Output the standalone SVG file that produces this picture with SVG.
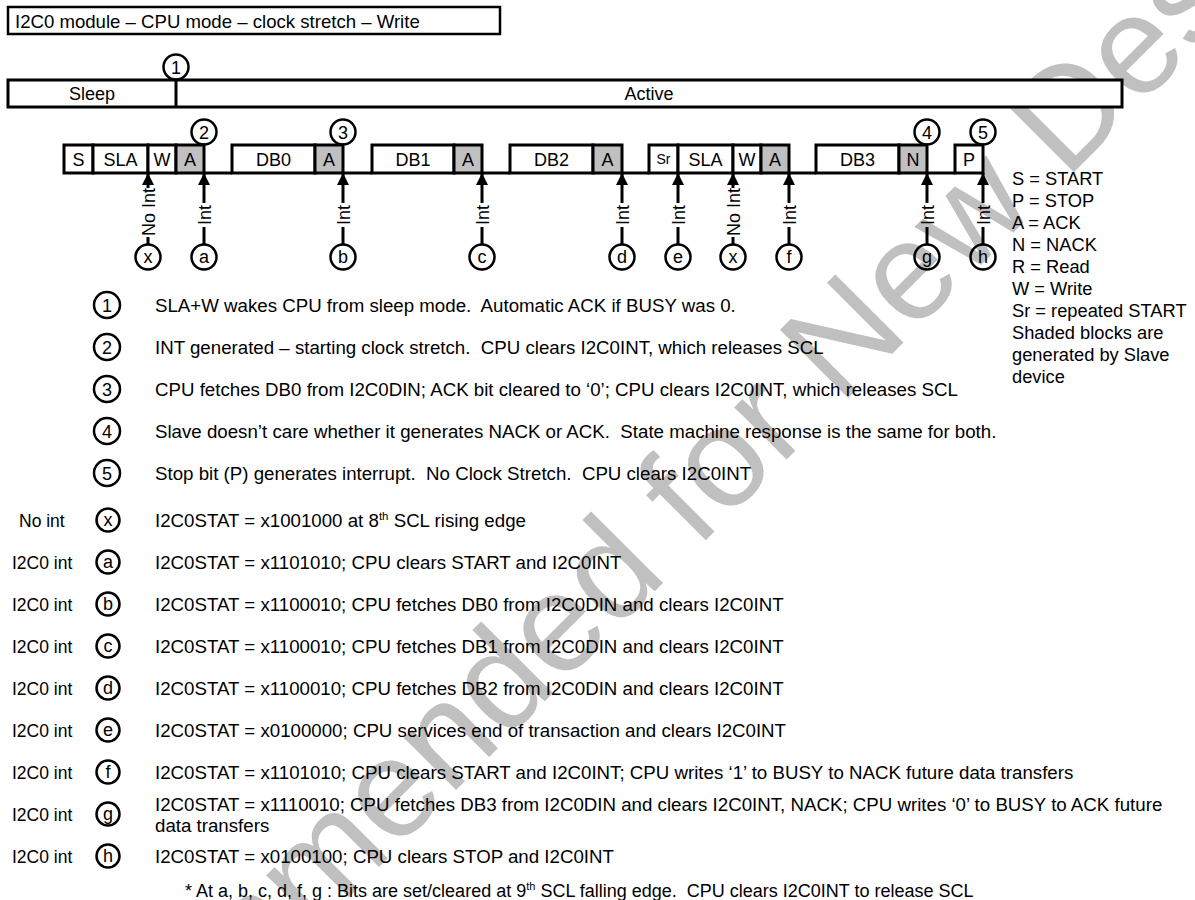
<svg xmlns="http://www.w3.org/2000/svg" width="1195" height="900" viewBox="0 0 1195 900">
<style>
text{font-family:"Liberation Sans",Arial,sans-serif;font-size:18px;fill:#000}
.c{text-anchor:middle}
.pre{white-space:pre}
.t{font-size:18.7px;white-space:pre}
.lbl{font-size:17.5px}
.lg{font-size:18.3px}
.box{fill:#fff;stroke:#000;stroke-width:3}
.sh{fill:#c0c0c0;stroke:#000;stroke-width:3}
.circ{fill:none;stroke:#000;stroke-width:2.5}
.ln{stroke:#000;stroke-width:3;fill:none}
.wm{font-size:140px;fill:#c0c0c0}
.sr{font-size:14px}
</style>
<defs>
<marker id="ah" markerUnits="userSpaceOnUse" viewBox="0 0 10 10" refX="10" refY="5" markerWidth="12" markerHeight="12" orient="auto"><path d="M0,0 L10,5 L0,10 z" fill="#000"/></marker>
</defs>
<rect width="1195" height="900" fill="#fff"/>
<text class="wm c" transform="translate(620,626) rotate(-45)">Not Recommended for New Designs</text>

<g id="title"><rect x="8" y="7" width="492" height="27" fill="#fff" stroke="#000" stroke-width="2.5"/><text x="15" y="28" style="font-size:18.6px">I2C0 module – CPU mode – clock stretch – Write</text></g>

<g id="state-bar">
<rect x="8" y="80" width="1114" height="27" class="box"/>
<line x1="176" y1="80" x2="176" y2="107" class="ln"/>
<text class="c" x="92" y="100">Sleep</text>
<text class="c" x="649" y="100">Active</text>
</g>

<g id="bits">
<rect class="box" x="64" y="145" width="29" height="28"/><text class="c" x="78.5" y="166">S</text>
<rect class="box" x="93" y="145" width="55" height="28"/><text class="c" x="120.5" y="166">SLA</text>
<rect class="box" x="148" y="145" width="28" height="28"/><text class="c" x="162" y="166">W</text>
<rect class="sh" x="176" y="145" width="28" height="28"/><text class="c" x="190" y="166">A</text>
<rect class="box" x="232" y="145" width="83" height="28"/><text class="c" x="273.5" y="166">DB0</text>
<rect class="sh" x="315" y="145" width="28" height="28"/><text class="c" x="329" y="166">A</text>
<rect class="box" x="372" y="145" width="82" height="28"/><text class="c" x="413" y="166">DB1</text>
<rect class="sh" x="454" y="145" width="28" height="28"/><text class="c" x="468" y="166">A</text>
<rect class="box" x="510" y="145" width="83" height="28"/><text class="c" x="551.5" y="166">DB2</text>
<rect class="sh" x="593" y="145" width="29" height="28"/><text class="c" x="607.5" y="166">A</text>
<rect class="box" x="649" y="145" width="29" height="28"/><text class="c sr" x="663.5" y="164">Sr</text>
<rect class="box" x="678" y="145" width="55" height="28"/><text class="c" x="705.5" y="166">SLA</text>
<rect class="box" x="733" y="145" width="28" height="28"/><text class="c" x="747" y="166">W</text>
<rect class="sh" x="761" y="145" width="28" height="28"/><text class="c" x="775" y="166">A</text>
<rect class="box" x="816" y="145" width="83" height="28"/><text class="c" x="857.5" y="166">DB3</text>
<rect class="sh" x="899" y="145" width="28" height="28"/><text class="c" x="913" y="166">N</text>
<rect class="box" x="955" y="145" width="28" height="28"/><text class="c" x="969" y="166">P</text>
</g>

<g id="bus-line">
<line class="ln" x1="204" y1="173" x2="232" y2="173"/>
<line class="ln" x1="343" y1="173" x2="372" y2="173"/>
<line class="ln" x1="482" y1="173" x2="510" y2="173"/>
<line class="ln" x1="622" y1="173" x2="649" y2="173"/>
<line class="ln" x1="789" y1="173" x2="816" y2="173"/>
<line class="ln" x1="927" y1="173" x2="955" y2="173"/>
</g>

<g id="markers-top">
<g id="m1"><circle class="circ" cx="176" cy="67" r="12.5"/><text class="c" x="176" y="73.5">1</text></g>
<g id="m2"><circle class="circ" cx="204" cy="132" r="12.5"/><text class="c" x="204" y="138.5">2</text></g>
<g id="m3"><circle class="circ" cx="343" cy="132" r="12.5"/><text class="c" x="343" y="138.5">3</text></g>
<g id="m4"><circle class="circ" cx="927" cy="132" r="12.5"/><text class="c" x="927" y="138.5">4</text></g>
<g id="m5"><circle class="circ" cx="983" cy="132" r="12.5"/><text class="c" x="983" y="138.5">5</text></g>
</g>

<g id="events">
<g id="ev-x1"><circle class="circ" cx="148" cy="257" r="12.5"/><text class="c" x="148" y="263">x</text></g>
<g id="ev-a"><circle class="circ" cx="204" cy="257" r="12.5"/><text class="c" x="204" y="263">a</text></g>
<g id="ev-b"><circle class="circ" cx="343" cy="257" r="12.5"/><text class="c" x="343" y="263">b</text></g>
<g id="ev-c"><circle class="circ" cx="482" cy="257" r="12.5"/><text class="c" x="482" y="263">c</text></g>
<g id="ev-d"><circle class="circ" cx="622" cy="257" r="12.5"/><text class="c" x="622" y="263">d</text></g>
<g id="ev-e"><circle class="circ" cx="678" cy="257" r="12.5"/><text class="c" x="678" y="263">e</text></g>
<g id="ev-x2"><circle class="circ" cx="733" cy="257" r="12.5"/><text class="c" x="733" y="263">x</text></g>
<g id="ev-f"><circle class="circ" cx="789" cy="257" r="12.5"/><text class="c" x="789" y="263">f</text></g>
<g id="ev-g"><circle class="circ" cx="927" cy="257" r="12.5"/><text class="c" x="927" y="263">g</text></g>
<g id="ev-h"><circle class="circ" cx="983" cy="257" r="12.5"/><text class="c" x="983" y="263">h</text></g>
</g>

<g id="connectors">
<line class="ln" x1="148" y1="188" x2="148" y2="173" marker-end="url(#ah)"/><line class="ln" x1="148" y1="237" x2="148" y2="244.5"/><text class="c" transform="translate(148,212) rotate(-90)" y="6.5">No Int</text>
<line class="ln" x1="204" y1="203" x2="204" y2="173" marker-end="url(#ah)"/><line class="ln" x1="204" y1="227" x2="204" y2="244.5"/><text class="c" transform="translate(204,215) rotate(-90)" y="6.5">Int</text>
<line class="ln" x1="343" y1="203" x2="343" y2="173" marker-end="url(#ah)"/><line class="ln" x1="343" y1="227" x2="343" y2="244.5"/><text class="c" transform="translate(343,215) rotate(-90)" y="6.5">Int</text>
<line class="ln" x1="482" y1="203" x2="482" y2="173" marker-end="url(#ah)"/><line class="ln" x1="482" y1="227" x2="482" y2="244.5"/><text class="c" transform="translate(482,215) rotate(-90)" y="6.5">Int</text>
<line class="ln" x1="622" y1="203" x2="622" y2="173" marker-end="url(#ah)"/><line class="ln" x1="622" y1="227" x2="622" y2="244.5"/><text class="c" transform="translate(622,215) rotate(-90)" y="6.5">Int</text>
<line class="ln" x1="678" y1="203" x2="678" y2="173" marker-end="url(#ah)"/><line class="ln" x1="678" y1="227" x2="678" y2="244.5"/><text class="c" transform="translate(678,215) rotate(-90)" y="6.5">Int</text>
<line class="ln" x1="733" y1="188" x2="733" y2="173" marker-end="url(#ah)"/><line class="ln" x1="733" y1="237" x2="733" y2="244.5"/><text class="c" transform="translate(733,212) rotate(-90)" y="6.5">No Int</text>
<line class="ln" x1="789" y1="203" x2="789" y2="173" marker-end="url(#ah)"/><line class="ln" x1="789" y1="227" x2="789" y2="244.5"/><text class="c" transform="translate(789,215) rotate(-90)" y="6.5">Int</text>
<line class="ln" x1="927" y1="203" x2="927" y2="173" marker-end="url(#ah)"/><line class="ln" x1="927" y1="227" x2="927" y2="244.5"/><text class="c" transform="translate(927,215) rotate(-90)" y="6.5">Int</text>
<line class="ln" x1="983" y1="203" x2="983" y2="173" marker-end="url(#ah)"/><line class="ln" x1="983" y1="227" x2="983" y2="244.5"/><text class="c" transform="translate(983,215) rotate(-90)" y="6.5">Int</text>
</g>

<g id="legend">
<text class="lg" x="1012" y="184.5">S = START</text>
<text class="lg" x="1012" y="206.5">P = STOP</text>
<text class="lg" x="1012" y="228.5">A = ACK</text>
<text class="lg" x="1012" y="250.5">N = NACK</text>
<text class="lg" x="1012" y="272.5">R = Read</text>
<text class="lg" x="1012" y="294.5">W = Write</text>
<text class="lg" x="1012" y="316.5">Sr = repeated START</text>
<text class="lg" x="1012" y="338.5">Shaded blocks are</text>
<text class="lg" x="1012" y="360.5">generated by Slave</text>
<text class="lg" x="1012" y="382.5">device</text>
</g>

<g id="notes">
<g id="n1"><circle class="circ" cx="107" cy="305" r="13"/><text class="c" x="107" y="311.5">1</text><text class="t" x="155" y="311.5">SLA+W wakes CPU from sleep mode.  Automatic ACK if BUSY was 0.</text></g>
<g id="n2"><circle class="circ" cx="107" cy="347" r="13"/><text class="c" x="107" y="353.5">2</text><text class="t" x="155" y="353.5">INT generated – starting clock stretch.  CPU clears I2C0INT, which releases SCL</text></g>
<g id="n3"><circle class="circ" cx="107" cy="389" r="13"/><text class="c" x="107" y="395.5">3</text><text class="t" x="155" y="395.5">CPU fetches DB0 from I2C0DIN; ACK bit cleared to ‘0’; CPU clears I2C0INT, which releases SCL</text></g>
<g id="n4"><circle class="circ" cx="107" cy="431" r="13"/><text class="c" x="107" y="437.5">4</text><text class="t" x="155" y="437.5">Slave doesn’t care whether it generates NACK or ACK.  State machine response is the same for both.</text></g>
<g id="n5"><circle class="circ" cx="107" cy="473" r="13"/><text class="c" x="107" y="479.5">5</text><text class="t" x="155" y="479.5">Stop bit (P) generates interrupt.  No Clock Stretch.  CPU clears I2C0INT</text></g>
<g id="nx"><text class="lbl" x="19" y="526.5">No int</text><circle class="circ" cx="108" cy="520" r="11.5"/><text class="c" x="108" y="526">x</text><text class="t" x="155" y="526.5">I2C0STAT = x1001000 at 8<tspan font-size="11.5" dy="-7">th</tspan><tspan dy="7"> SCL rising edge</tspan></text></g>
<g id="na"><text class="lbl" x="12" y="568.5">I2C0 int</text><circle class="circ" cx="108" cy="562" r="11.5"/><text class="c" x="108" y="568">a</text><text class="t" x="155" y="568.5">I2C0STAT = x1101010; CPU clears START and I2C0INT</text></g>
<g id="nb"><text class="lbl" x="12" y="610.5">I2C0 int</text><circle class="circ" cx="108" cy="604" r="11.5"/><text class="c" x="108" y="610">b</text><text class="t" x="155" y="610.5">I2C0STAT = x1100010; CPU fetches DB0 from I2C0DIN and clears I2C0INT</text></g>
<g id="nc"><text class="lbl" x="12" y="652.5">I2C0 int</text><circle class="circ" cx="108" cy="646" r="11.5"/><text class="c" x="108" y="652">c</text><text class="t" x="155" y="652.5">I2C0STAT = x1100010; CPU fetches DB1 from I2C0DIN and clears I2C0INT</text></g>
<g id="nd"><text class="lbl" x="12" y="694.5">I2C0 int</text><circle class="circ" cx="108" cy="688" r="11.5"/><text class="c" x="108" y="694">d</text><text class="t" x="155" y="694.5">I2C0STAT = x1100010; CPU fetches DB2 from I2C0DIN and clears I2C0INT</text></g>
<g id="ne"><text class="lbl" x="12" y="736.5">I2C0 int</text><circle class="circ" cx="108" cy="730" r="11.5"/><text class="c" x="108" y="736">e</text><text class="t" x="155" y="736.5">I2C0STAT = x0100000; CPU services end of transaction and clears I2C0INT</text></g>
<g id="nf"><text class="lbl" x="12" y="778.5">I2C0 int</text><circle class="circ" cx="108" cy="772" r="11.5"/><text class="c" x="108" y="778">f</text><text class="t" x="155" y="778.5">I2C0STAT = x1101010; CPU clears START and I2C0INT; CPU writes ‘1’ to BUSY to NACK future data transfers</text></g>
<g id="ng"><text class="lbl" x="12" y="820.5">I2C0 int</text><circle class="circ" cx="108" cy="814" r="11.5"/><text class="c" x="108" y="820">g</text><text class="t" x="155" y="810.5">I2C0STAT = x1110010; CPU fetches DB3 from I2C0DIN and clears I2C0INT, NACK; CPU writes ‘0’ to BUSY to ACK future</text><text class="t" x="155" y="831.5">data transfers</text></g>
<g id="nh"><text class="lbl" x="12" y="862.5">I2C0 int</text><circle class="circ" cx="108" cy="856" r="11.5"/><text class="c" x="108" y="862">h</text><text class="t" x="155" y="862.5">I2C0STAT = x0100100; CPU clears STOP and I2C0INT</text></g>
<g id="footnote"><text class="pre" x="185" y="897" font-size="17.2">* At a, b, c, d, f, g : Bits are set/cleared at 9<tspan font-size="11" dy="-7">th</tspan><tspan dy="7"> SCL falling edge.  CPU clears I2C0INT to release SCL</tspan></text></g>
</g>
</svg>
